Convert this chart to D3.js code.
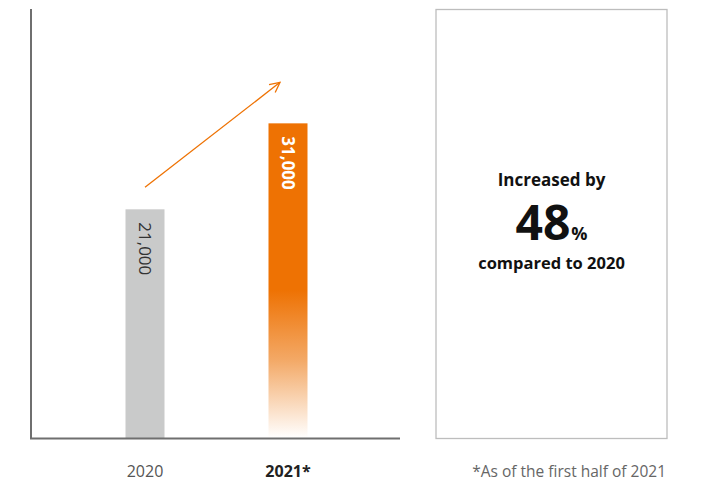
<!DOCTYPE html>
<html><head><meta charset="utf-8">
<script src="https://cdn.jsdelivr.net/npm/d3@7"></script>
<style>body{margin:0;background:#fff;}svg{display:block;font-family:"Open Sans","Noto Sans",sans-serif;}</style>
</head><body>
<svg id="c" width="712" height="482"></svg>
<script>
const categories = ["2020", "2021*"];
const values = [21000, 31000];
const valueLabels = ["21,000", "31,000"];
const boxLines = ["Increased by", "48", "%", "compared to 2020"];
const footnote = "*As of the first half of 2021";

const svg = d3.select("#c");
const x = d3.scalePoint().domain(categories).range([145, 288]);
const y = d3.scaleLinear().domain([-5600, 44300]).range([438, 9]);
const barW = 39;

const defs = svg.append("defs");
const g = defs.append("linearGradient").attr("id","og").attr("x1",0).attr("y1",0).attr("x2",0).attr("y2",1);
g.append("stop").attr("offset","0%").attr("stop-color","#EE7203");
g.append("stop").attr("offset","53%").attr("stop-color","#EE7203");
g.append("stop").attr("offset","75%").attr("stop-color","#F3A865");
g.append("stop").attr("offset","100%").attr("stop-color","#FFFFFF");
defs.append("marker").attr("id","ah").attr("viewBox","0 0 12 12").attr("refX",11).attr("refY",6)
  .attr("markerWidth",12).attr("markerHeight",12).attr("markerUnits","userSpaceOnUse").attr("orient","auto")
  .append("path").attr("d","M1,1 L11,6 L1,11").attr("fill","none").attr("stroke","#EE7203").attr("stroke-width",1.3);

// bars
svg.selectAll("rect.bar").data(values).enter().append("rect")
  .attr("x",(d,i)=>x(categories[i])-barW/2).attr("y",d=>y(d))
  .attr("width",barW).attr("height",d=>y(-5600)-y(d))
  .attr("fill",(d,i)=>i===0?"#C9CACA":"url(#og)");

// axes lines
svg.append("line").attr("x1",31).attr("x2",31).attr("y1",9).attr("y2",439).attr("stroke","#6f6f6f").attr("stroke-width",2);
svg.append("line").attr("x1",30).attr("x2",400).attr("y1",438.5).attr("y2",438.5).attr("stroke","#6f6f6f").attr("stroke-width",2);

// value labels rotated
svg.selectAll("text.vl").data(values).enter().append("text")
  .attr("transform",(d,i)=>`translate(${x(categories[i])-6},${y(d)+13}) rotate(90)`)
  .attr("font-size",17).attr("font-weight",(d,i)=>i===0?400:700)
  .attr("fill",(d,i)=>i===0?"#333":"#fff")
  .text((d,i)=>valueLabels[i]);

// arrow
svg.append("line")
  .attr("x1",x(categories[0])).attr("y1",y(values[0])-22)
  .attr("x2",x(categories[1])-8).attr("y2",y(values[1])-41)
  .attr("stroke","#EE7203").attr("stroke-width",1.3).attr("marker-end","url(#ah)");

// category labels
svg.selectAll("text.cl").data(categories).enter().append("text")
  .attr("x",d=>x(d)).attr("y",477).attr("text-anchor","middle")
  .attr("font-size",16).attr("font-weight",(d,i)=>i===0?400:700)
  .attr("fill",(d,i)=>i===0?"#555":"#222").text(d=>d);

svg.append("text").attr("x",666).attr("y",477).attr("text-anchor","end")
  .attr("font-size",15.5).attr("font-weight",400).attr("fill","#666").text(footnote);

// box
svg.append("rect").attr("x",436).attr("y",9.5).attr("width",231).attr("height",429)
  .attr("fill","none").attr("stroke","#bdbdbd").attr("stroke-width",1.3);
const cx = 551.5;
svg.append("text").attr("x",cx).attr("y",186).attr("text-anchor","middle").attr("font-size",17).attr("font-weight",700).attr("fill","#111").text(boxLines[0]);
const t = svg.append("text").attr("x",cx).attr("y",240).attr("text-anchor","middle").attr("fill","#111").attr("font-weight",700);
t.append("tspan").attr("font-size",48).text(boxLines[1]);
t.append("tspan").attr("font-size",18).attr("dx",1).text(boxLines[2]);
svg.append("text").attr("x",cx).attr("y",269).attr("text-anchor","middle").attr("font-size",16.5).attr("font-weight",700).attr("fill","#111").text(boxLines[3]);
</script>
</body></html>
